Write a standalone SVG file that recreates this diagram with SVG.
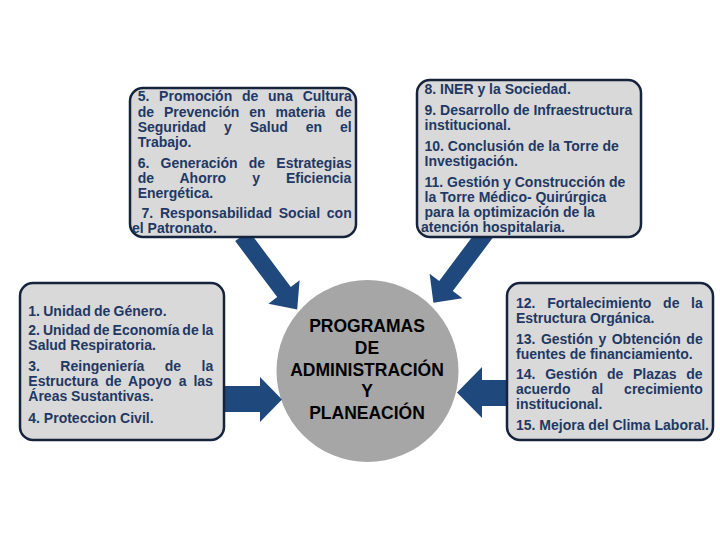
<svg xmlns="http://www.w3.org/2000/svg" width="720" height="540" viewBox="0 0 720 540">
<style>
.box{fill:#D9D9D9;stroke:#15233D;stroke-width:2.5}
.t{font-family:"Liberation Sans",Arial,sans-serif;font-weight:bold;font-size:14px;fill:#1F3864}
.c{font-family:"Liberation Sans",Arial,sans-serif;font-weight:bold;font-size:17.5px;fill:#000000;text-anchor:middle}
.arrow{fill:#1F497D}
</style>
<rect width="720" height="540" fill="#FFFFFF"/>
<g id="center">
<circle cx="367.5" cy="371" r="91" fill="#A6A6A6"/>
<text class="c" x="367" y="332">PROGRAMAS</text>
<text class="c" x="367" y="353.5">DE</text>
<text class="c" x="367" y="375.5">ADMINISTRACIÓN</text>
<text class="c" x="367" y="397">Y</text>
<text class="c" x="367" y="418.5">PLANEACIÓN</text>
</g>
<g id="connectors">
<polygon class="arrow" points="248.8,230.9 290.8,286.9 299.6,280.3 297.2,309.6 268.4,303.7 277.2,297.1 235.2,241.1"/>
<polygon class="arrow" points="494.8,235.1 452.8,291.1 462.4,298.3 433.4,302.8 429.6,273.7 439.2,280.9 481.2,224.9"/>
<polygon class="arrow" points="215,386 260,386 260,377 282,399.5 260,422 260,412 215,412"/>
<polygon class="arrow" points="515,380 482,380 482,367 457,392.5 482,418 482,406 515,406"/>
</g>
<g id="box-top-left">
<rect class="box" x="130" y="88" width="226" height="149" rx="13"/>
<text class="t" x="137.7" y="101" word-spacing="5.85">5. Promoción de una Cultura</text>
<text class="t" x="137.7" y="116.5" word-spacing="6">de Prevención en materia de</text>
<text class="t" x="137.7" y="131.7" word-spacing="14">Seguridad y Salud en el</text>
<text class="t" x="137.7" y="147">Trabajo.</text>
<text class="t" x="137.7" y="167.7" word-spacing="7.3">6. Generación de Estrategias</text>
<text class="t" x="137.7" y="182.7" word-spacing="22.1">de Ahorro y Eficiencia</text>
<text class="t" x="137.7" y="197.7">Energética.</text>
<text class="t" x="141.5" y="217.7" word-spacing="2.9">7. Responsabilidad Social con</text>
<text class="t" x="132" y="233.3">el Patronato.</text>
</g>
<g id="box-top-right">
<rect class="box" x="417" y="80" width="224" height="157" rx="13"/>
<text class="t" x="424.5" y="94">8. INER y la Sociedad.</text>
<text class="t" x="424.5" y="114.5">9. Desarrollo de Infraestructura</text>
<text class="t" x="424.5" y="129.5">institucional.</text>
<text class="t" x="424.5" y="150.5">10. Conclusión de la Torre de</text>
<text class="t" x="424.5" y="165.5">Investigación.</text>
<text class="t" x="424.5" y="186.5">11. Gestión y Construcción de</text>
<text class="t" x="424.5" y="201.5">la Torre Médico- Quirúrgica</text>
<text class="t" x="424.5" y="216.5">para la optimización de la</text>
<text class="t" x="421" y="231.5">atención hospitalaria.</text>
</g>
<g id="box-left">
<rect class="box" x="20" y="283" width="204" height="157" rx="13"/>
<text class="t" x="28.3" y="316" word-spacing="-0.6">1. Unidad de Género.</text>
<text class="t" x="28.3" y="335" word-spacing="-0.96">2. Unidad de Economía de la</text>
<text class="t" x="28.3" y="350">Salud Respiratoria.</text>
<text class="t" x="28.3" y="370.5" word-spacing="16.5">3. Reingeniería de la</text>
<text class="t" x="28.3" y="385.7" word-spacing="3.1">Estructura de Apoyo a las</text>
<text class="t" x="28.3" y="401">Áreas Sustantivas.</text>
<text class="t" x="28.3" y="422.5">4. Proteccion Civil.</text>
</g>
<g id="box-right">
<rect class="box" x="507" y="283" width="206" height="157" rx="13"/>
<text class="t" x="516" y="307.5" word-spacing="7.8">12. Fortalecimiento de la</text>
<text class="t" x="516" y="322.5">Estructura Orgánica.</text>
<text class="t" x="516" y="343.5" word-spacing="1.55">13. Gestión y Obtención de</text>
<text class="t" x="516" y="358.5">fuentes de financiamiento.</text>
<text class="t" x="516" y="378.7" word-spacing="5.8">14. Gestión de Plazas de</text>
<text class="t" x="516" y="393.8" word-spacing="17.1">acuerdo al crecimiento</text>
<text class="t" x="516" y="408.9">institucional.</text>
<text class="t" x="516" y="430">15. Mejora del Clima Laboral.</text>
</g>
</svg>
